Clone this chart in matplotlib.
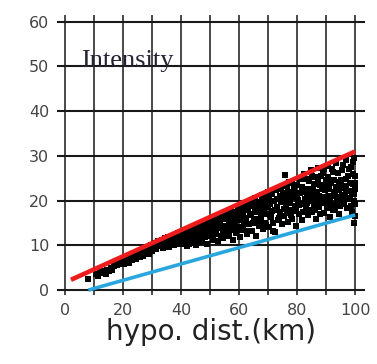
import matplotlib
matplotlib.use("Agg")
import matplotlib.pyplot as plt
import numpy as np

# ---- data ----
x_ticks = [0, 20, 40, 60, 80, 100]
y_ticks = [0, 10, 20, 30, 40, 50, 60]

red_x = [2, 100]
red_y = [2.3, 31.0]
blue_x = [8, 100]
blue_y = [0.0, 16.8]

dist = [
    8.0, 10.5, 11.2, 12.0, 12.8, 13.5, 14.0, 14.6, 15.2, 15.8, 16.3, 17.0,
    17.5, 18.0, 18.4, 18.9, 19.3, 19.8, 20.2, 20.6, 21.0, 21.5, 21.9, 22.3, 22.8, 23.2, 23.6, 24.0,
    24.5, 24.9, 25.3, 25.8, 26.2, 26.6, 27.0, 27.5, 27.9, 28.3, 28.8, 29.2, 29.6, 30.0, 30.4, 30.9,
    31.3, 31.7, 32.1,
    32.5, 32.9, 33.3, 33.6, 34.0, 34.4, 34.8, 35.2, 35.6, 35.9, 36.3, 36.7, 37.0, 37.4, 37.8, 38.1,
    38.5, 38.9, 39.2, 39.6, 40.0, 40.3, 40.7, 41.0, 41.4, 41.8, 42.1, 42.5, 42.9, 43.2, 43.6, 44.0,
    44.3, 44.7, 45.0, 45.4, 45.8,
    46.1, 46.5, 46.8, 47.2, 47.6, 48.0, 48.3, 48.7, 49.0, 49.4, 49.8, 50.1, 50.5, 50.9, 51.2, 51.6,
    52.0, 52.3, 52.7, 53.1, 53.4, 53.8, 54.2, 54.5, 54.9, 55.3, 55.6, 56.0, 56.4, 56.7, 57.1, 57.5,
    57.8, 58.2, 58.6, 58.9, 59.3, 59.7, 60.0, 60.4, 60.8,
    61.2, 61.5, 61.9, 62.3, 62.6, 63.0, 63.4, 63.7, 64.1, 64.5, 64.8, 65.2, 65.6, 65.9, 66.3, 66.7,
    67.0, 67.4, 67.8, 68.1, 68.5, 68.9, 69.2, 69.6, 70.0, 70.3, 70.7, 71.1, 71.4, 71.8, 72.2, 72.4,
    72.9, 73.3, 73.6, 74.0, 74.4, 74.7, 75.1, 75.5, 75.9, 76.2, 76.6, 77.0, 77.3, 77.7, 78.1, 78.4,
    78.8, 79.2, 79.5, 80.0, 80.3, 80.7,
    81.1, 81.4, 81.8, 82.2, 82.5, 82.9, 83.3, 83.6, 84.0, 84.4, 84.7, 85.1, 85.5, 85.8, 86.2, 86.6,
    86.9, 87.3, 87.7, 88.0, 88.4, 88.8, 89.1, 89.5, 89.9, 90.2, 90.6, 91.0, 91.3, 91.7, 92.1, 92.4,
    92.8, 93.2, 93.5, 93.9, 94.3, 94.6, 95.0, 95.4, 95.7, 96.1, 96.5, 96.8, 97.2, 97.6, 97.9, 98.3,
    98.7, 99.0, 99.2, 99.4, 99.6, 99.8, 100.0, 100.0, 99.5,
]
intensity = [
    2.5, 3.6, 3.2, 4.0, 3.8, 4.3, 3.5, 4.6, 4.2, 5.0, 4.4, 5.3,
    6.2, 5.6, 6.6, 5.9, 6.9, 6.3, 5.8, 7.1, 6.5, 7.4, 6.0, 7.0, 7.8, 6.7, 7.5, 8.1,
    7.0, 7.9, 8.5, 7.4, 8.8, 8.0, 7.6, 9.0, 8.4, 9.5, 8.1, 9.2, 10.0, 8.8, 9.7, 10.6,
    9.1, 10.3, 11.0,
    9.8, 10.5, 11.3, 9.4, 10.9, 11.6, 10.1, 11.0, 11.9, 9.7, 10.6, 12.0, 11.2, 10.0, 12.4, 11.5,
    10.4, 12.8, 11.0, 12.1, 10.2, 11.7, 13.1, 10.8, 12.4, 11.3, 9.9, 12.9, 11.8, 10.6, 13.4, 12.2,
    11.0, 13.8, 10.1, 12.6, 14.0,
    11.5, 13.2, 14.6, 10.8, 12.4, 13.9, 11.9, 15.0, 10.4, 13.0, 14.3, 12.0, 15.6, 11.1, 13.6, 14.9,
    12.5, 16.2, 10.9, 13.8, 15.3, 12.2, 16.6, 11.6, 14.4, 15.8, 13.0, 17.2, 12.0, 14.9, 16.3, 13.5,
    11.2, 17.5, 15.2, 12.7, 16.8, 14.0, 18.3, 11.9, 15.6,
    17.4, 13.8, 19.5, 16.1, 12.6, 18.2, 14.7, 20.0, 16.8, 13.3, 18.9, 15.5, 20.6, 12.2, 17.6, 14.3,
    19.7, 16.4, 21.2, 13.6, 18.4, 15.1, 20.8, 17.0, 22.0, 14.0, 19.2, 16.3, 21.5, 13.2, 18.0, 13.0,
    20.3, 15.6, 22.6, 17.4, 19.8, 14.8, 21.7, 16.6, 25.7, 19.0, 23.2, 15.2, 20.9, 17.9, 24.0, 16.0,
    22.1, 18.7, 14.4, 23.6, 20.2, 17.1,
    24.8, 19.3, 15.6, 22.0, 26.0, 18.1, 21.0, 16.8, 24.3, 20.0, 26.8, 17.5, 22.7, 19.0, 25.2, 15.9,
    21.6, 27.4, 18.6, 23.5, 20.4, 26.1, 17.2, 22.3, 24.7, 19.6, 27.8, 21.1, 16.4, 23.9, 19.0, 26.5,
    22.0, 18.2, 28.4, 20.7, 24.2, 16.9, 22.8, 26.9, 19.8, 23.3, 21.2, 29.1, 18.4, 25.4, 22.1, 20.3,
    27.5, 17.4, 23.7, 28.6, 21.4, 19.2, 25.6, 22.6, 15.0,
]

# second batch of points read from the denser part of the cloud
dist_b = [
    35.4, 36.1, 36.9, 37.6, 38.3, 39.0, 39.8, 40.5, 41.2, 41.9, 42.7, 43.4, 44.1, 44.9, 45.6, 46.3,
    47.0, 47.8, 48.5, 49.2, 50.0, 50.7, 51.4, 52.1, 52.9, 53.6, 54.3, 55.1, 55.8, 56.5, 57.3, 58.0,
    58.8, 59.5, 60.2,
    60.6, 61.0, 61.7, 62.1, 62.8, 63.2, 63.9, 64.3, 64.9, 65.4, 65.8, 66.5, 66.9, 67.6, 67.9, 68.3,
    68.7, 69.4, 69.8, 70.2, 70.5, 70.9, 71.3, 71.6, 72.0, 72.7, 73.1, 73.8, 74.2, 74.6, 75.3, 75.7,
    76.4, 76.8, 77.2, 77.5, 78.0, 78.6, 79.0, 79.7, 80.1, 80.5,
    81.0, 81.6, 82.0, 82.7, 83.1, 83.5, 83.8, 84.2, 84.6, 85.0, 85.3, 85.7, 86.0, 86.4, 86.8, 87.1,
    87.5, 87.9, 88.2, 88.6, 89.0, 89.3, 89.7, 90.0, 90.4, 90.8, 91.1, 91.5, 91.9, 92.2, 92.6, 93.0,
    93.3, 93.7, 94.1, 94.5, 94.8, 95.2, 95.6, 95.9, 96.3, 96.7, 97.0, 97.4, 97.8, 98.1, 98.5, 98.9,
    99.3, 99.7, 99.9, 99.6, 99.8,
]
intensity_b = [
    10.4, 11.4, 10.8, 11.8, 12.0, 11.6, 11.2, 12.5, 11.9, 12.6, 10.4, 12.0, 13.2, 11.7, 13.3, 12.1,
    13.6, 14.1, 12.9, 14.7, 13.3, 14.2, 12.6, 15.0, 14.1, 16.0, 13.2, 16.9, 14.1, 15.5, 17.6, 14.6,
    16.2, 18.0, 16.6,
    13.5, 18.8, 15.3, 17.9, 19.0, 13.1, 17.1, 19.6, 14.9, 17.5, 16.0, 19.0, 15.6, 18.0, 20.9, 16.9,
    19.5, 14.6, 18.6, 20.4, 16.8, 21.9, 17.7, 15.0, 20.0, 22.3, 18.5, 16.2, 21.0, 23.1, 18.2, 20.4,
    17.3, 21.9, 24.2, 19.5, 16.8, 20.7, 23.0, 17.6, 21.5, 19.0,
    21.6, 23.0, 17.4, 20.4, 24.9, 19.4, 22.5, 17.8, 21.7, 25.5, 20.5, 23.8, 18.0, 22.0, 19.9, 24.4,
    21.0, 16.9, 25.6, 22.6, 19.4, 27.0, 20.8, 23.2, 18.3, 25.2, 22.5, 20.1, 27.0, 17.8, 24.6, 21.1,
    23.0, 19.5, 26.2, 22.4, 18.8, 24.7, 21.0, 28.0, 19.3, 24.8, 22.7, 20.6, 27.0, 23.9, 18.9, 21.9,
    25.9, 20.0, 24.0, 29.5, 16.5,
]

# ---- figure ----
W, H = 377, 364
fig = plt.figure(figsize=(W / 100, H / 100), dpi=100)
ax = fig.add_axes([57 / W, 1 - 295 / H, (365 - 57) / W, (295 - 15) / H])

ax.set_xlim(-2.8, 103.4)
ax.set_ylim(-1.1, 61.5)

grid_c = "#181818"
for xv in range(0, 101, 10):
    ax.axvline(xv, color=grid_c, lw=1.1, zorder=1)
for yv in y_ticks:
    ax.axhline(yv, color=grid_c, lw=1.5, zorder=1)

all_x = dist + dist_b
all_y = intensity + intensity_b
ax.scatter(all_x, all_y, s=14, marker="s", color="black", linewidths=0, zorder=3)
ax.plot(blue_x, blue_y, color="#2aa6df", lw=2.6, solid_capstyle="butt", zorder=4)
ax.plot(red_x, red_y, color="#ee1c1c", lw=3.3, solid_capstyle="butt", zorder=5)

for s in ax.spines.values():
    s.set_visible(False)
ax.set_xticks(x_ticks)
ax.set_yticks(y_ticks)
ax.tick_params(length=0, labelsize=11.5, labelcolor="#444444")
ax.tick_params(axis="y", pad=5.5)
ax.tick_params(axis="x", pad=6)

ax.text(5.6, 49.9, "Intensity", family="Liberation Serif", fontsize=19,
        color="#222233", ha="left", va="baseline", zorder=6)

ax.set_xlabel("hypo. dist.(km)", fontsize=20, color="#222222", labelpad=0)

fig.savefig("out.png", dpi=100)
